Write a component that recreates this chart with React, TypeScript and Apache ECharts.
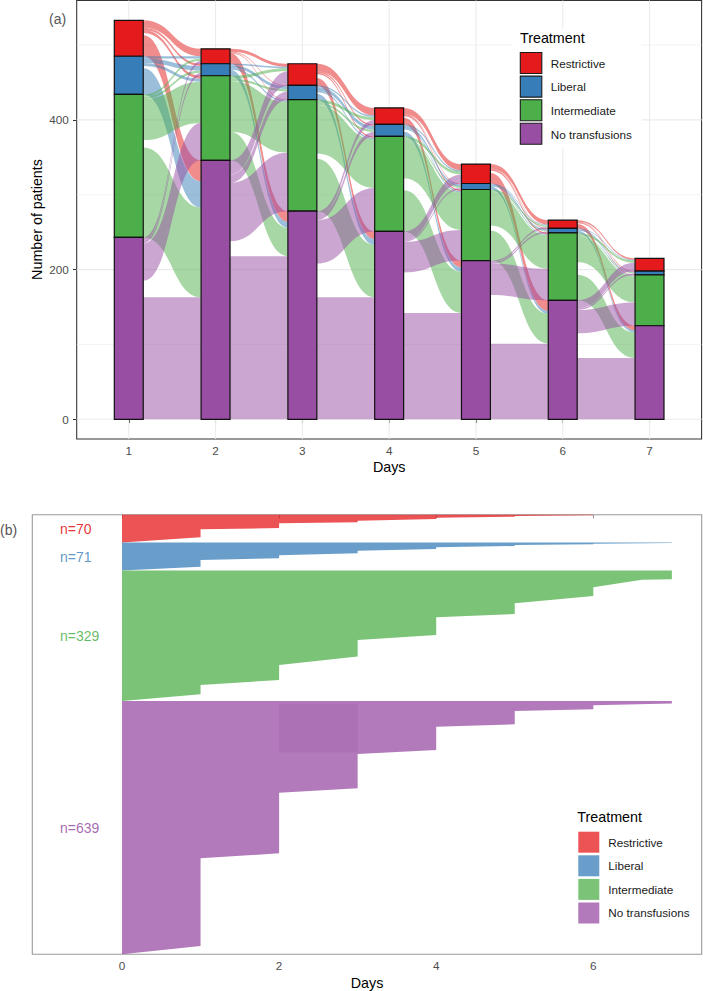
import React, { useEffect, useRef } from "react";
import * as echarts from "echarts";

const TREATMENTS = ["Restrictive", "Liberal", "Intermediate", "No transfusions"];
const SET1 = ["#E41A1C", "#377EB8", "#4DAF4A", "#984EA3"];
const FLOW_FILL = ["rgba(228,26,28,0.5)", "rgba(55,126,184,0.5)", "rgba(77,175,74,0.5)", "rgba(152,78,163,0.5)"];
const B_FILL = ["rgba(228,26,28,0.75)", "rgba(55,126,184,0.75)", "rgba(77,175,74,0.75)", "rgba(152,78,163,0.75)"];
const LABEL_FILL = ["rgba(228,26,28,0.9)", "rgba(55,126,184,0.8)", "rgba(77,175,74,0.85)", "rgba(152,78,163,0.85)"];
const FONT = "Liberation Sans, Arial, Helvetica, sans-serif";

// ---------- Panel (a): patients per treatment per day ----------
const DAYS = [1, 2, 3, 4, 5, 6, 7];
const RESTRICTIVE = [48, 20, 29, 22, 26, 11, 17];
const LIBERAL = [51, 16, 19, 16, 8, 6, 5];
const INTERMEDIATE = [191, 113, 149, 127, 95, 90, 68];
const NO_TRANSFUSIONS = [243, 346, 278, 251, 212, 159, 125];

// transitions day d -> d+1 ; rows = from (R, L, I, N), cols = to (R, L, I, N)
const FLOW_D1_D2 = [[10, 3, 4, 28], [3, 6, 4, 35], [3, 3, 55, 120], [4, 4, 50, 163]];
const FLOW_D2_D3 = [[4, 1, 1, 14], [2, 4, 2, 8], [4, 3, 68, 38], [19, 11, 78, 218]];
const FLOW_D3_D4 = [[10, 2, 2, 10], [2, 5, 2, 8], [4, 3, 65, 70], [6, 6, 58, 163]];
const FLOW_D4_D5 = [[8, 1, 2, 9], [2, 3, 2, 6], [4, 2, 50, 55], [12, 2, 41, 142]];
const FLOW_D5_D6 = [[6, 1, 2, 14], [1, 2, 1, 4], [2, 1, 45, 40], [2, 2, 42, 101]];
const FLOW_D6_D7 = [[2, 1, 1, 6], [1, 1, 1, 3], [3, 1, 35, 34], [11, 2, 31, 82]];

const Y_TICKS_A = [0, 200, 400];
const Y_MINOR_A = [100, 300, 500];

// ---------- Panel (b): duration per patient, sorted ----------
const GROUP_N = [70, 71, 329, 639];
const DAY_TICKS_B = [0, 2, 4, 6];
// right boundary of each group: [duration (days), row from group top]
const STEPS_RESTRICTIVE = [[6, 0], [6, 1.6], [5, 3.3], [5, 5], [4, 7.6], [4, 10.9], [3, 15.1], [3, 19.3], [2, 21.8], [2, 33.6], [1, 36.9], [1, 57.1], [0, 70]];
const STEPS_LIBERAL = [[7, 0], [7, 1.2], [6, 3.1], [6, 4.8], [5, 6.5], [5, 9], [4, 12.4], [4, 16.6], [3, 21], [3, 27.5], [2, 32], [2, 40], [1, 44], [1, 61], [0, 71]];
const STEPS_INTERMEDIATE = [[7, 0], [7, 22], [6.62, 23], [6, 42.1], [6, 64.1], [5, 82.5], [5, 109.5], [4, 117.8], [4, 162.5], [3, 175.1], [3, 216.7], [2, 238.2], [2, 276], [1, 288.6], [1, 312.1], [0, 329]];
const STEPS_NO_TRANSFUSIONS = [[7, 0], [7, 6.3], [6, 10.8], [6, 20.9], [5, 25.2], [5, 58.8], [4, 64.8], [4, 123.6], [3, 133.7], [3, 220.2], [2, 231.3], [2, 384.2], [1, 396.8], [1, 618], [0, 639]];
// overplotted band in the no-transfusion group: [x0, x1, rowTop, rowBottom] (global rows)
const OVERLAP_B = [2, 3, 476, 599];

const STRATA = [RESTRICTIVE, LIBERAL, INTERMEDIATE, NO_TRANSFUSIONS];
const TRANSITIONS = [FLOW_D1_D2, FLOW_D2_D3, FLOW_D3_D4, FLOW_D4_D5, FLOW_D5_D6, FLOW_D6_D7];
const STEPS = [STEPS_RESTRICTIVE, STEPS_LIBERAL, STEPS_INTERMEDIATE, STEPS_NO_TRANSFUSIONS];

const HALF = 1 / 6;

function bounds(dayIdx: number) {
  const b: number[][] = [];
  let acc = 0;
  for (let s = 3; s >= 0; s--) {
    b[s] = [acc, acc + STRATA[s][dayIdx]];
    acc += STRATA[s][dayIdx];
  }
  return b;
}

function buildBars() {
  const out: number[][] = [];
  DAYS.forEach((d, i) => {
    const b = bounds(i);
    for (let s = 0; s < 4; s++) out.push([d, b[s][0], b[s][1], s]);
  });
  return out;
}

function buildFlows() {
  const out: number[][] = [];
  TRANSITIONS.forEach((T, g) => {
    const L = bounds(g);
    const R = bounds(g + 1);
    const left: number[][][] = [[], [], [], []];
    const right: number[][][] = [[], [], [], []];
    for (let s = 0; s < 4; s++) {
      let cur = L[s][1];
      const total = T[s].reduce((a, b) => a + b, 0);
      const exit = STRATA[s][g] - total;
      for (let t = 0; t < 4; t++) {
        if (t === 3) cur -= exit;
        left[s][t] = [cur, cur - T[s][t]];
        cur -= T[s][t];
      }
    }
    for (let t = 0; t < 4; t++) {
      let cur = R[t][1];
      for (let s = 0; s < 4; s++) {
        right[s][t] = [cur, cur - T[s][t]];
        cur -= T[s][t];
      }
    }
    const x0 = DAYS[g] + HALF;
    const x1 = DAYS[g + 1] - HALF;
    for (let s = 0; s < 4; s++) {
      for (let t = 0; t < 4; t++) {
        if (T[s][t] <= 0) continue;
        out.push([x0, x1, left[s][t][0], left[s][t][1], right[s][t][0], right[s][t][1], s]);
      }
    }
  });
  return out;
}

function buildGridLines() {
  const out: number[][] = [];
  Y_TICKS_A.forEach((v) => out.push([0, v, 1]));
  Y_MINOR_A.forEach((v) => out.push([0, v, 0]));
  DAYS.forEach((d) => out.push([1, d, 1]));
  return out;
}

const GROUP_OFFSET = GROUP_N.map((_, i) => GROUP_N.slice(0, i).reduce((a, b) => a + b, 0));
const TOTAL_ROWS = GROUP_N.reduce((a, b) => a + b, 0);

const XA_MIN = 0.4, XA_MAX = 7.6, YA_MIN = -26.3, YA_MAX = 559.5;
const XB_MIN = -1.142, XB_MAX = 7.38;

function buildOption(): any {
  const legendA: any[] = [];
  const legendB: any[] = [];
  legendA.push({ type: "rect", shape: { x: 511.7, y: 29, width: 130, height: 119 }, style: { fill: "#fff" }, z: 50 });
  legendA.push({ type: "text", x: 520, y: 38, style: { text: "Treatment", fontSize: 14.3, fontFamily: FONT, fill: "#000", align: "left", verticalAlign: "middle" }, z: 51 });
  TREATMENTS.forEach((t, i) => {
    legendA.push({ type: "rect", shape: { x: 520.3, y: 52.5 + i * 23.6, width: 21.5, height: 21 }, style: { fill: SET1[i], stroke: "#1a1a1a", lineWidth: 1.1 }, z: 51 });
    legendA.push({ type: "text", x: 550.7, y: 63.2 + i * 23.65, style: { text: t, fontSize: 11.7, fontFamily: FONT, fill: "#1a1a1a", align: "left", verticalAlign: "middle" }, z: 51 });
    legendB.push({ type: "rect", shape: { x: 578.3, y: 831.7 + i * 23.6, width: 21, height: 21 }, style: { fill: B_FILL[i] }, z: 51 });
    legendB.push({ type: "text", x: 608.3, y: 842.3 + i * 23.5, style: { text: t, fontSize: 11.7, fontFamily: FONT, fill: "#1a1a1a", align: "left", verticalAlign: "middle" }, z: 51 });
  });
  legendB.push({ type: "text", x: 577.3, y: 816.7, style: { text: "Treatment", fontSize: 14.3, fontFamily: FONT, fill: "#000", align: "left", verticalAlign: "middle" }, z: 51 });

  const titles: any[] = [
    { type: "text", x: 49, y: 19, style: { text: "(a)", fontSize: 14, fontFamily: FONT, fill: "#555", align: "left", verticalAlign: "middle" } },
    { type: "text", x: 0, y: 530, style: { text: "(b)", fontSize: 14, fontFamily: FONT, fill: "#555", align: "left", verticalAlign: "middle" } },
    { type: "text", x: 37.2, y: 219.5, rotation: Math.PI / 2, style: { text: "Number of patients", fontSize: 14.3, fontFamily: FONT, fill: "#000", align: "center", verticalAlign: "middle" } },
    { type: "text", x: 389.2, y: 467.3, style: { text: "Days", fontSize: 14.3, fontFamily: FONT, fill: "#000", align: "center", verticalAlign: "middle" } },
    { type: "text", x: 367, y: 983.3, style: { text: "Days", fontSize: 14.3, fontFamily: FONT, fill: "#000", align: "center", verticalAlign: "middle" } },
  ];

  const axisLabelStyle = { color: "#4D4D4D", fontSize: 11.7, fontFamily: FONT };

  return {
    animation: false,
    backgroundColor: "#fff",
    grid: [
      { left: 76.7, top: 0.5, width: 624.9, height: 438.5, show: true, borderColor: "#333333", borderWidth: 1.07, backgroundColor: "transparent", containLabel: false },
      { left: 32.3, top: 514.7, width: 669.4, height: 439.6, show: true, borderColor: "#999999", borderWidth: 1.07, backgroundColor: "transparent", containLabel: false },
    ],
    xAxis: [
      {
        type: "value", gridIndex: 0, min: XA_MIN, max: XA_MAX,
        axisLine: { show: false },
        axisTick: { show: true, customValues: DAYS, length: 3.7, lineStyle: { color: "#333333", width: 1.07 } },
        axisLabel: { show: true, customValues: DAYS, margin: 5.5, ...axisLabelStyle },
        splitLine: { show: false },
      },
      {
        type: "value", gridIndex: 1, min: XB_MIN, max: XB_MAX,
        axisLine: { show: false },
        axisTick: { show: true, customValues: DAY_TICKS_B, length: 3.7, lineStyle: { color: "#999999", width: 1.07 } },
        axisLabel: { show: true, customValues: DAY_TICKS_B, margin: 5.5, ...axisLabelStyle },
        splitLine: { show: false },
      },
    ],
    yAxis: [
      {
        type: "value", gridIndex: 0, min: YA_MIN, max: YA_MAX,
        axisLine: { show: false },
        axisTick: { show: true, customValues: Y_TICKS_A, length: 3.7, lineStyle: { color: "#333333", width: 1.07 } },
        axisLabel: { show: true, customValues: Y_TICKS_A, margin: 8, ...axisLabelStyle },
        splitLine: { show: false },
      },
      {
        type: "value", gridIndex: 1, min: 0, max: TOTAL_ROWS, inverse: true, show: false,
        splitLine: { show: false },
      },
    ],
    graphic: { elements: [...titles, ...legendA, ...legendB] },
    series: [
      {
        type: "custom", xAxisIndex: 0, yAxisIndex: 0, z: 1, silent: true,
        data: buildGridLines(),
        renderItem: (params: any, api: any) => {
          const orient = api.value(0), v = api.value(1), major = api.value(2);
          let a, b;
          if (orient === 0) { a = api.coord([XA_MIN, v]); b = api.coord([XA_MAX, v]); }
          else { a = api.coord([v, YA_MIN]); b = api.coord([v, YA_MAX]); }
          return { type: "line", shape: { x1: a[0], y1: a[1], x2: b[0], y2: b[1] }, style: { stroke: "#EBEBEB", lineWidth: major ? 1.07 : 0.6 } };
        },
      },
      {
        type: "custom", xAxisIndex: 0, yAxisIndex: 0, z: 2, silent: true,
        data: buildFlows(),
        renderItem: (params: any, api: any) => {
          const x0 = api.value(0), x1 = api.value(1);
          const a = api.coord([x0, api.value(2)]);
          const b = api.coord([x0, api.value(3)]);
          const c = api.coord([x1, api.value(4)]);
          const d = api.coord([x1, api.value(5)]);
          const xm = (a[0] + c[0]) / 2;
          const path = `M${a[0]},${a[1]} C${xm},${a[1]} ${xm},${c[1]} ${c[0]},${c[1]} L${d[0]},${d[1]} C${xm},${d[1]} ${xm},${b[1]} ${b[0]},${b[1]} Z`;
          return { type: "path", shape: { pathData: path }, style: { fill: FLOW_FILL[api.value(6)], stroke: null } };
        },
      },
      {
        type: "custom", xAxisIndex: 0, yAxisIndex: 0, z: 3, silent: true,
        data: buildBars(),
        renderItem: (params: any, api: any) => {
          const d = api.value(0);
          const tl = api.coord([d - HALF, api.value(2)]);
          const br = api.coord([d + HALF, api.value(1)]);
          return { type: "rect", shape: { x: tl[0], y: tl[1], width: br[0] - tl[0], height: br[1] - tl[1] }, style: { fill: SET1[api.value(3)], stroke: "#111", lineWidth: 1.2 } };
        },
      },
      {
        type: "custom", xAxisIndex: 1, yAxisIndex: 1, z: 2, silent: true,
        data: GROUP_N.map((n, i) => [0, GROUP_OFFSET[i], i]),
        renderItem: (params: any, api: any) => {
          const g = api.value(2);
          const off = GROUP_OFFSET[g];
          const pts: number[][] = [];
          pts.push(api.coord([0, off]));
          STEPS[g].forEach((p) => pts.push(api.coord([p[0], off + p[1]])));
          pts.push(api.coord([0, off + GROUP_N[g]]));
          return { type: "polygon", shape: { points: pts }, style: { fill: B_FILL[g], stroke: null } };
        },
      },
      {
        type: "custom", xAxisIndex: 1, yAxisIndex: 1, z: 3, silent: true,
        data: [OVERLAP_B],
        renderItem: (params: any, api: any) => {
          const tl = api.coord([api.value(0), api.value(2)]);
          const br = api.coord([api.value(1), api.value(3)]);
          return { type: "rect", shape: { x: tl[0], y: tl[1], width: br[0] - tl[0], height: br[1] - tl[1] }, style: { fill: "rgba(130,50,145,0.13)" } };
        },
      },
      {
        type: "custom", xAxisIndex: 1, yAxisIndex: 1, z: 4, silent: true,
        data: GROUP_N.map((n, i) => [-0.79, GROUP_OFFSET[i] + n / 2, i]),
        renderItem: (params: any, api: any) => {
          const g = api.value(2);
          const p = api.coord([api.value(0), api.value(1)]);
          return { type: "text", x: p[0], y: p[1], style: { text: `n=${GROUP_N[g]}`, fill: LABEL_FILL[g], fontSize: 14, fontFamily: FONT, align: "left", verticalAlign: "middle" } };
        },
      },
    ],
  };
}

export default function App() {
  const ref = useRef<HTMLDivElement>(null);
  useEffect(() => {
    if (!ref.current) return;
    const chart = echarts.init(ref.current, null, { renderer: "svg" });
    chart.setOption(buildOption());
    return () => chart.dispose();
  }, []);
  return <div ref={ref} style={{ position: "absolute", left: 0, top: 0, width: 703, height: 991, background: "#fff" }} />;
}
